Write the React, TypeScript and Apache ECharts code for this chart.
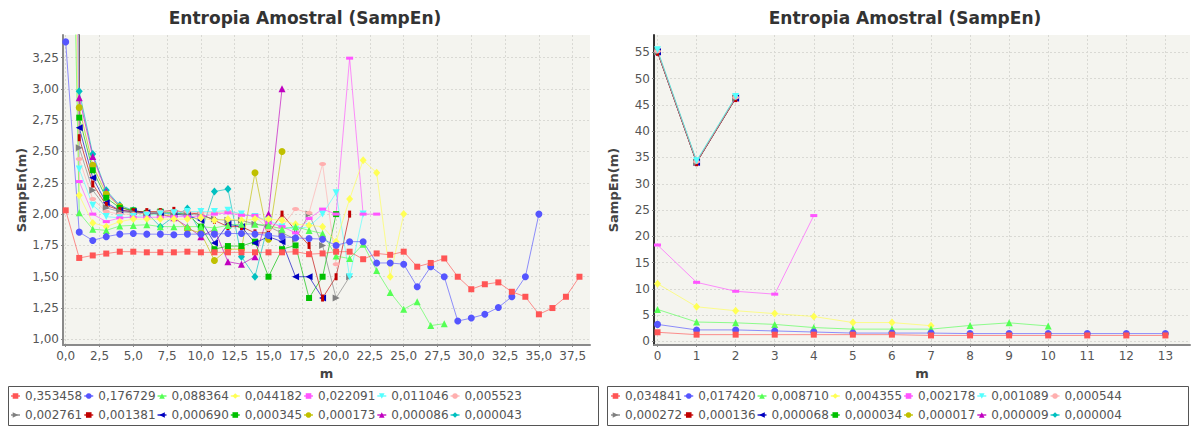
import React, { useEffect, useRef } from "react";
import * as echarts from "echarts";

const FONT = "DejaVu Sans";

const leftLabels = ["0,353458", "0,176729", "0,088364", "0,044182", "0,022091", "0,011046", "0,005523", "0,002761", "0,001381", "0,000690", "0,000345", "0,000173", "0,000086", "0,000043"];
const rightLabels = ["0,034841", "0,017420", "0,008710", "0,004355", "0,002178", "0,001089", "0,000544", "0,000272", "0,000136", "0,000068", "0,000034", "0,000017", "0,000009", "0,000004"];

const colors = ["#FF5555", "#5555FF", "#55FF55", "#FFFF55", "#FF55FF", "#55FFFF", "#FFAFAF", "#808080", "#C00000", "#0000C0", "#00C000", "#C0C000", "#C000C0", "#00C0C0"];

// Left chart: SampEn(m) per r, index = m
const left_0_353458 = [2.03, 1.65, 1.67, 1.685, 1.70, 1.70, 1.695, 1.695, 1.695, 1.70, 1.695, 1.695, 1.695, 1.695, 1.695, 1.695, 1.695, 1.70, 1.68, 1.686, 1.70, 1.70, 1.64, 1.686, 1.675, 1.70, 1.58, 1.61, 1.646, 1.50, 1.40, 1.44, 1.455, 1.38, 1.34, 1.20, 1.25, 1.34, 1.50];
const left_0_176729 = [3.375, 1.856, 1.79, 1.82, 1.84, 1.845, 1.84, 1.84, 1.835, 1.84, 1.84, 1.84, 1.845, 1.845, 1.84, 1.83, 1.82, 1.81, 1.805, 1.80, 1.75, 1.78, 1.78, 1.61, 1.61, 1.60, 1.42, 1.58, 1.50, 1.146, 1.17, 1.20, 1.255, 1.34, 1.50, 2.00];
const left_0_088364 = [7.5, 2.01, 1.88, 1.87, 1.905, 1.91, 1.915, 1.90, 1.90, 1.90, 1.90, 1.89, 1.91, 1.92, 1.92, 1.91, 1.88, 1.90, 1.87, 1.845, 1.665, 1.645, 1.76, 1.55, 1.375, 1.24, 1.30, 1.11, 1.125];
const left_0_044182 = [9, 2.15, 1.93, 1.90, 1.94, 1.96, 1.96, 1.96, 1.96, 1.96, 1.97, 1.95, 1.96, 1.95, 1.96, 1.96, 1.95, 1.92, 1.91, 1.90, 1.78, 2.12, 2.43, 2.33, 1.50, 2.00];
const left_0_022091 = [12, 2.26, 2.00, 1.94, 1.97, 1.975, 1.975, 1.975, 1.98, 1.98, 1.98, 2.00, 2.01, 1.99, 1.99, 1.93, 1.90, 1.85, 1.965, 2.04, 2.00, 3.245, 2.00, 2.00];
const left_0_011046 = [15, 2.36, 2.07, 1.98, 1.97, 1.98, 1.99, 2.00, 2.01, 2.02, 2.02, 2.02, 2.03, 2.00, 1.98, 1.95, 1.90, 1.88, 1.90, 2.00, 2.17, 1.50, 2.00];
const left_0_005523 = [20, 2.44, 2.12, 2.02, 2.00, 2.00, 2.01, 2.02, 2.02, 2.02, 2.01, 2.01, 2.02, 2.00, 1.98, 1.88, 1.90, 2.04, 2.01, 2.40, 1.60];
const left_0_002761 = [25, 2.53, 2.19, 2.05, 2.02, 2.01, 2.00, 2.01, 2.00, 2.00, 1.99, 1.96, 1.95, 1.95, 1.92, 1.90, 1.85, 1.80, 2.00, 1.75, 1.33, 1.50];
const left_0_001381 = [30, 2.61, 2.24, 2.07, 2.03, 2.02, 2.02, 2.02, 2.03, 2.01, 2.00, 1.95, 1.90, 1.90, 1.85, 1.85, 2.00, 1.87, 1.75, 1.33, 1.50, 2.00];
const left_0_000690 = [35, 2.69, 2.29, 2.09, 2.03, 2.02, 2.01, 2.01, 2.00, 1.99, 1.95, 1.77, 1.92, 1.90, 1.77, 1.82, 1.78, 1.50, 1.50, 1.33];
const left_0_000345 = [40, 2.77, 2.35, 2.13, 2.05, 2.03, 2.01, 2.02, 2.01, 2.00, 1.90, 1.72, 1.745, 1.745, 1.78, 1.50, 1.72, 1.75, 1.33, 1.50, 2.00];
const left_0_000173 = [45, 2.85, 2.39, 2.16, 2.06, 2.02, 2.00, 2.00, 1.98, 1.88, 1.85, 1.63, 1.72, 1.72, 2.33, 1.80, 2.50];
const left_0_000086 = [50, 2.93, 2.46, 2.18, 2.06, 2.02, 2.01, 2.00, 1.97, 1.90, 1.82, 1.88, 1.62, 1.60, 1.66, 2.00, 3.00];
const left_0_000043 = [55, 2.98, 2.48, 2.19, 2.07, 2.03, 2.01, 1.90, 1.98, 2.045, 1.85, 2.18, 2.20, 1.66, 1.50, 1.93];

// Right chart
const right_0_034841 = [1.75, 1.3, 1.3, 1.3, 1.3, 1.3, 1.3, 1.15, 1.15, 1.15, 1.15, 1.15, 1.15, 1.15];
const right_0_017420 = [3.25, 2.2, 2.2, 2.0, 1.8, 1.6, 1.6, 1.6, 1.5, 1.5, 1.5, 1.5, 1.5, 1.5];
const right_0_008710 = [6.1, 3.7, 3.55, 3.25, 2.65, 2.35, 2.35, 2.35, 3.05, 3.55, 2.95];
const right_0_004355 = [11.0, 6.6, 5.85, 5.3, 4.75, 3.6, 3.6, 3.0];
const right_0_002178 = [18.35, 11.25, 9.55, 9.0, 23.95];
const right_0_001089 = [55.5, 34.4, 46.6];
const right_0_000544 = [55.2, 34.2, 46.4];
const right_0_000272 = [55.1, 34.1, 46.3];
const right_0_000136 = [55.0, 34.0, 46.2];
const right_0_000068 = [55.1, 34.1, 46.3];
const right_0_000034 = [55.1, 34.1, 46.3];
const right_0_000017 = [55.2, 34.2, 46.4];
const right_0_000009 = [55.1, 34.1, 46.3];
const right_0_000004 = [55.3, 34.3, 46.5];

const leftData = [left_0_353458, left_0_176729, left_0_088364, left_0_044182, left_0_022091, left_0_011046, left_0_005523, left_0_002761, left_0_001381, left_0_000690, left_0_000345, left_0_000173, left_0_000086, left_0_000043];
const rightData = [right_0_034841, right_0_017420, right_0_008710, right_0_004355, right_0_002178, right_0_001089, right_0_000544, right_0_000272, right_0_000136, right_0_000068, right_0_000034, right_0_000017, right_0_000009, right_0_000004];

// JFreeChart-like shape sequence
const shapeSymbol = ["rect", "circle", "triangle", "diamond", "rect", "triangle", "circle", "triangle", "rect", "triangle", "rect", "circle", "triangle", "diamond"];
const shapeSize: any[] = [6, 7, 7, [7, 8], [7, 3], 7, [7, 4], 7, [3, 7], 7, 6, 7, 7, [7, 8]];
const shapeRotate = [0, 0, 0, 0, 0, 180, 0, -90, 0, 90, 0, 0, 0, 0];

const commaFmt = (d: number) => (v: number) => v.toFixed(d).replace(".", ",");

function buildSeries(data: number[][], names: string[], idx: number) {
  const list = data.map((arr, i) => ({
    type: "line",
    name: names[i],
    xAxisIndex: idx,
    yAxisIndex: idx,
    data: arr.map((v, m) => [m, v]),
    symbol: shapeSymbol[i],
    symbolSize: shapeSize[i],
    symbolRotate: shapeRotate[i],
    showSymbol: true,
    clip: true,
    itemStyle: { color: colors[i], opacity: 1 },
    lineStyle: { color: colors[i], width: 1, opacity: 0.65 },
    emphasis: { disabled: true },
    silent: true,
  }));
  // first series drawn on top (reverse rendering order)
  return list.reverse();
}

const gridLine = { show: true, lineStyle: { color: "#d9d9d4", type: [2, 2] as any, width: 1 }, showMinLine: false, showMaxLine: false };
const labelStyle = { color: "#555", fontSize: 12, fontFamily: FONT, showMinLabel: false, showMaxLabel: false };

function xAxis(idx: number, min: number, max: number, step: number, fmt: (v: number) => string) {
  return {
    type: "value",
    gridIndex: idx,
    min,
    max,
    minInterval: step,
    maxInterval: step,
    splitNumber: 20,
    name: "m",
    nameLocation: "middle",
    nameGap: 22,
    nameTextStyle: { fontFamily: FONT, fontWeight: "bold", fontSize: 13, color: "#444" },
    axisLine: { show: true, onZero: false, lineStyle: { color: "#8a8a8a", width: 2 } },
    axisTick: { show: true, length: 2, lineStyle: { color: "#8a8a8a" } },
    axisLabel: { ...labelStyle, margin: 5, formatter: fmt },
    splitLine: gridLine,
  };
}

function yAxis(idx: number, min: number, max: number, step: number, fmt: (v: number) => string, lineColor: string) {
  return {
    type: "value",
    gridIndex: idx,
    min,
    max,
    minInterval: step,
    maxInterval: step,
    splitNumber: 20,
    name: "SampEn(m)",
    nameLocation: "middle",
    nameRotate: 90,
    nameGap: 34,
    nameTextStyle: { fontFamily: FONT, fontWeight: "bold", fontSize: 13, color: "#444" },
    axisLine: { show: true, onZero: false, lineStyle: { color: lineColor, width: 2 } },
    axisTick: { show: true, length: 2, lineStyle: { color: "#8a8a8a" } },
    axisLabel: { ...labelStyle, margin: 4, formatter: fmt },
    splitLine: gridLine,
  };
}

const legendCommon = {
  orient: "horizontal",
  padding: 0,
  itemGap: 1,
  itemWidth: 9,
  itemHeight: 7,
  selectedMode: false,
  textStyle: { fontSize: 12, color: "#555", fontFamily: FONT },
};

const option: any = {
  animation: false,
  backgroundColor: "#ffffff",
  textStyle: { fontFamily: FONT },
  grid: [
    { left: 63, right: 608, top: 35, bottom: 85, show: true, backgroundColor: "#F4F4EF", borderWidth: 0 },
    { left: 654, right: 8, top: 35, bottom: 85, show: true, backgroundColor: "#F4F4EF", borderWidth: 0 },
  ],
  xAxis: [
    xAxis(0, -0.2, 38.78, 2.5, commaFmt(1)),
    xAxis(1, -0.09, 13.63, 1, (v: number) => String(Math.round(v))),
  ],
  yAxis: [
    yAxis(0, 0.955, 3.43, 0.25, commaFmt(2), "#8a8a8a"),
    yAxis(1, -0.67, 58.3, 5, (v: number) => String(Math.round(v)), "#333"),
  ],
  legend: [
    { ...legendCommon, data: leftLabels.slice(0, 7), left: 10, top: 390 },
    { ...legendCommon, data: leftLabels.slice(7), left: 10, top: 409 },
    { ...legendCommon, data: rightLabels.slice(0, 7), left: 610, top: 390 },
    { ...legendCommon, data: rightLabels.slice(7), left: 610, top: 409 },
  ],
  graphic: [
    { type: "text", x: 305, y: 18, silent: true, style: { text: "Entropia Amostral (SampEn)", fontFamily: FONT, fontWeight: "bold", fontSize: 17, fill: "#333", textAlign: "center", textVerticalAlign: "middle" } },
    { type: "text", x: 905, y: 18, silent: true, style: { text: "Entropia Amostral (SampEn)", fontFamily: FONT, fontWeight: "bold", fontSize: 17, fill: "#333", textAlign: "center", textVerticalAlign: "middle" } },
    { type: "rect", silent: true, shape: { x: 8.5, y: 386.5, width: 590, height: 39 }, style: { fill: "none", stroke: "#555", lineWidth: 1 } },
    { type: "rect", silent: true, shape: { x: 607.5, y: 386.5, width: 581, height: 39 }, style: { fill: "none", stroke: "#555", lineWidth: 1 } },
  ],
  series: [...buildSeries(leftData, leftLabels, 0), ...buildSeries(rightData, rightLabels, 1)],
};

export default function App() {
  const ref = useRef<HTMLDivElement>(null);
  useEffect(() => {
    const chart = echarts.init(ref.current!, null, { renderer: "svg" });
    chart.setOption(option);
    return () => chart.dispose();
  }, []);
  return <div ref={ref} style={{ position: "absolute", left: 0, top: 0, width: 1198, height: 430, background: "#fff" }} />;
}
